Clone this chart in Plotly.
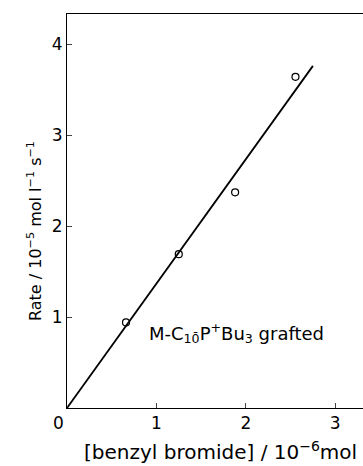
import plotly.graph_objects as go

x_pts = [0.66, 1.25, 1.88, 2.555]
y_pts = [0.94, 1.69, 2.37, 3.64]
fit_x = [0.0, 2.75]
fit_y = [0.0, 3.76]
x_ticks = [1, 2, 3]
y_ticks = [1, 2, 3, 4]

W, H = 363, 466
L, R, T, B = 67, 0, 14, 58
pw, ph = W - L - R, H - T - B

def px(xp):
    return (xp - L) / pw

def py(yp):
    return (H - B - yp) / ph

fig = go.Figure()
fig.add_trace(go.Scatter(x=fit_x, y=fit_y, mode="lines",
                         line=dict(color="black", width=1.8), showlegend=False))
fig.add_trace(go.Scatter(x=x_pts, y=y_pts, mode="markers",
                         marker=dict(symbol="circle-open", size=7, color="black",
                                     line=dict(width=1.2)), showlegend=False))

fig.update_layout(
    width=W, height=H,
    margin=dict(l=L, r=R, t=T, b=B),
    paper_bgcolor="white", plot_bgcolor="white",
    font=dict(family="DejaVu Sans", size=16, color="black"),
    xaxis=dict(range=[0, 3.31], tickvals=x_ticks, ticks="inside", ticklen=5,
               showgrid=False, zeroline=False, showline=True, linecolor="black",
               linewidth=1, mirror=True, tickfont=dict(size=17)),
    yaxis=dict(range=[0, 4.33], tickvals=y_ticks, ticks="inside", ticklen=5,
               showgrid=False, zeroline=False, showline=True, linecolor="black",
               linewidth=1, tickfont=dict(size=17)),
)
fig.add_annotation(x=px(58), y=py(423), xref="paper", yref="paper", text="0",
                   showarrow=False, xanchor="center", yanchor="middle",
                   font=dict(size=17))
fig.add_annotation(x=0.89, y=0.82, xref="x", yref="y",
                   text="M-C<sub>1</sub><sub>0̄</sub>P<sup>+</sup>Bu<sub>3</sub> grafted",
                   showarrow=False, xanchor="left", yanchor="middle",
                   font=dict(size=18))
fig.add_annotation(x=px(35), y=py(231), xref="paper", yref="paper",
                   text="Rate / 10<sup>−5</sup> mol l<sup>−1</sup> s<sup>−1</sup>",
                   showarrow=False, textangle=-90, xanchor="center", yanchor="middle",
                   font=dict(size=16))
fig.add_annotation(x=px(220), y=py(451), xref="paper", yref="paper",
                   text="[benzyl bromide] / 10<sup>−6</sup>mol",
                   showarrow=False, xanchor="center", yanchor="middle",
                   font=dict(size=20))
fig.write_html("out.html")
